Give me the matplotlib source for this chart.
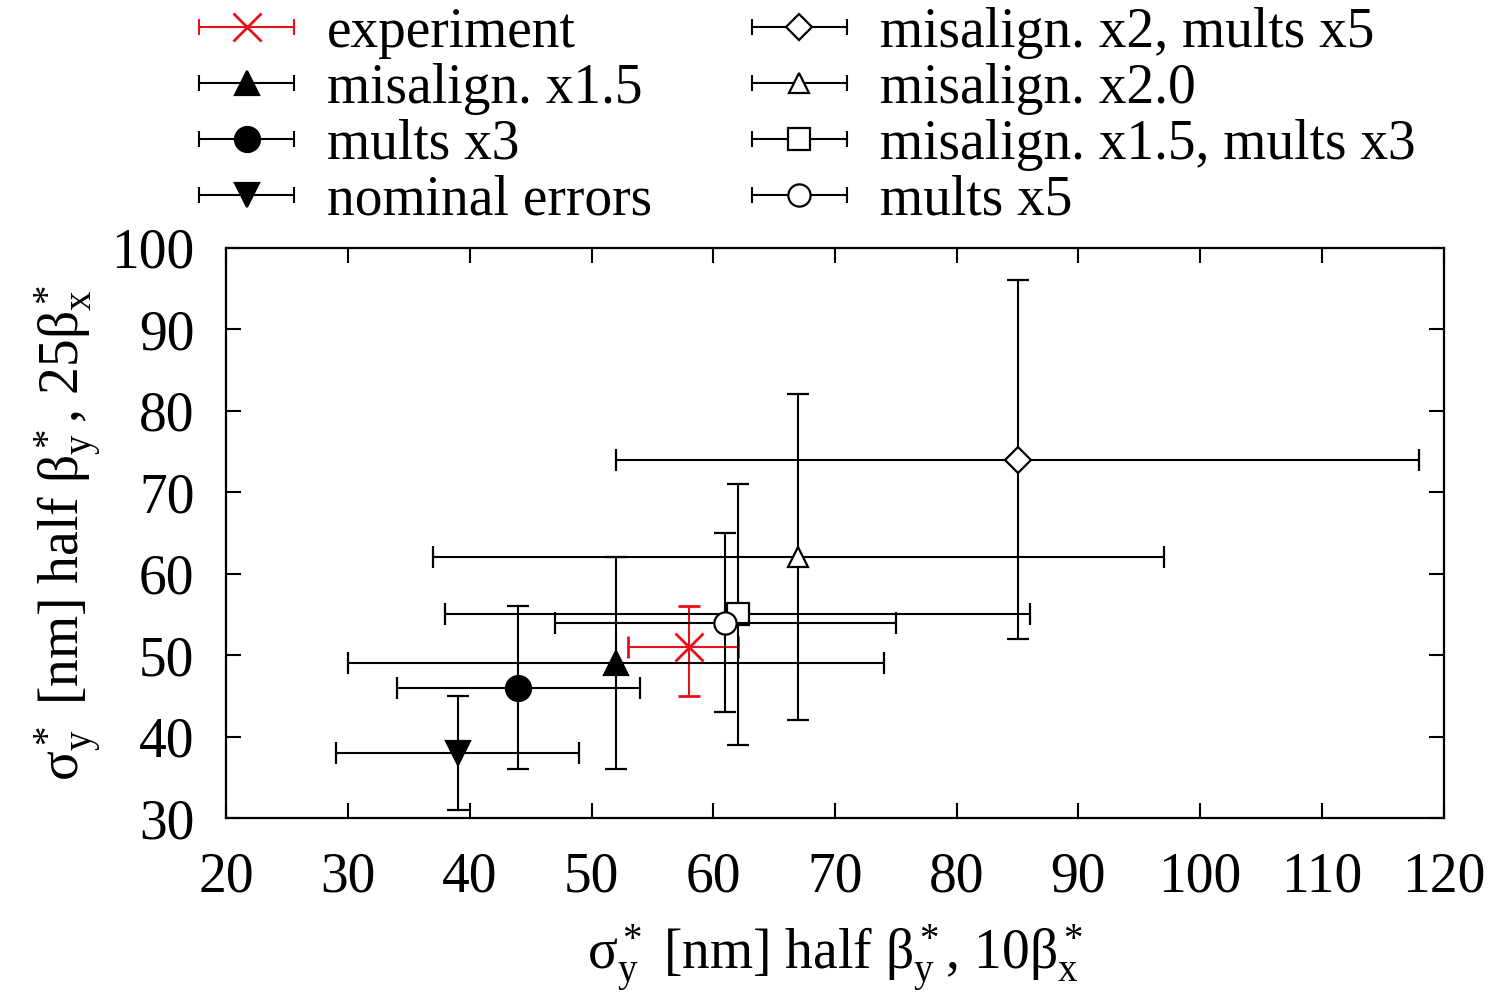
import matplotlib
matplotlib.use("Agg")
import matplotlib.pyplot as plt
from matplotlib.lines import Line2D
from matplotlib.legend_handler import HandlerBase

# valores
etiquetas = ["experiment", "misalign. x1.5", "mults x3", "nominal errors",
             "misalign. x2, mults x5", "misalign. x2.0", "misalign. x1.5, mults x3", "mults x5"]
x_val = [58, 52, 44, 39, 85, 67, 62, 61]
y_val = [51, 49, 46, 38, 74, 62, 55, 54]
x_min = [53, 30, 34, 29, 52, 37, 38, 47]
x_max = [62, 74, 54, 49, 118, 97, 86, 75]
y_min = [45, 36, 36, 31, 52, 42, 39, 43]
y_max = [56, 62, 56, 45, 96, 82, 71, 65]

marcadores = ["x", "^", "o", "v", "D", "^", "s", "o"]
rellenos = [True, True, True, True, False, False, False, False]
tamanos = [20, 17, 18, 17, 13, 15, 16, 16]
colores = ["#e8101a"] + ["black"] * 7

plt.rcParams["font.family"] = ["Liberation Serif", "DejaVu Serif"]
plt.rcParams["mathtext.fontset"] = "custom"
plt.rcParams["mathtext.rm"] = "Liberation Serif"
plt.rcParams["mathtext.it"] = "Liberation Serif:italic"


class HandlerSoloX(HandlerBase):
    # leyenda estilo gnuplot: solo barra horizontal con topes
    def create_artists(self, legend, orig_handle, xdescent, ydescent,
                       width, height, fontsize, trans):
        linea = orig_handle[0]
        c = linea.get_color()
        yc = height / 2.0 - ydescent
        barra = Line2D([-xdescent, width - xdescent], [yc, yc], color=c, lw=1.5)
        topes = Line2D([-xdescent, width - xdescent], [yc, yc], ls="none",
                       marker="|", markersize=12, markeredgewidth=1.5, color=c)
        marca = Line2D([(width - xdescent) / 2.0 - xdescent / 2.0], [yc], ls="none",
                       marker=linea.get_marker(),
                       markersize=linea.get_markersize(),
                       markerfacecolor=linea.get_markerfacecolor(),
                       markeredgecolor=linea.get_markeredgecolor(),
                       markeredgewidth=linea.get_markeredgewidth())
        for a in (barra, topes, marca):
            a.set_transform(trans)
        return [barra, topes, marca]


fig = plt.figure(figsize=(14.99, 9.99), dpi=100)
ax = fig.add_axes([0.151, 0.181, 0.812, 0.571])

contenedores = []
for i in range(len(etiquetas)):
    xe = [[x_val[i] - x_min[i]], [x_max[i] - x_val[i]]]
    ye = [[y_val[i] - y_min[i]], [y_max[i] - y_val[i]]]
    c = colores[i]
    cont = ax.errorbar([x_val[i]], [y_val[i]], xerr=xe, yerr=ye,
                       fmt=marcadores[i], color=c, ecolor=c,
                       markersize=tamanos[i],
                       markerfacecolor=c if rellenos[i] else "white",
                       markeredgecolor=c,
                       markeredgewidth=2.0 if i == 0 else 1.6,
                       elinewidth=1.5, capsize=8, capthick=1.5,
                       label=etiquetas[i], zorder=3 + i)
    contenedores.append(cont)

ax.set_xlim(20, 120)
ax.set_ylim(30, 100)
ax.set_xticks(range(20, 121, 10))
ax.set_yticks(range(30, 101, 10))
ax.tick_params(direction="in", length=11, width=1.5, top=True, right=True,
               labelsize=40)
ax.tick_params(axis="x", pad=24)
ax.tick_params(axis="y", pad=23)
for s in ax.spines.values():
    s.set_linewidth(1.6)

ax.set_xlabel(r"σ$^*_\mathrm{y}$ [nm] half β$^*_\mathrm{y}$, 10β$^*_\mathrm{x}$",
              fontsize=40, labelpad=14)
ax.set_ylabel(r"σ$^*_\mathrm{y}$ [nm] half β$^*_\mathrm{y}$, 25β$^*_\mathrm{x}$",
              fontsize=40, labelpad=5)

fig.legend(contenedores, etiquetas, ncol=2, loc="upper left",
           bbox_to_anchor=(0.107, 1.032), frameon=False, fontsize=40,
           handler_map={c: HandlerSoloX() for c in contenedores},
           handlelength=1.7, handletextpad=0.6, labelspacing=0.07,
           columnspacing=1.8, borderpad=0.2)

fig.savefig("out.png", dpi=100)
